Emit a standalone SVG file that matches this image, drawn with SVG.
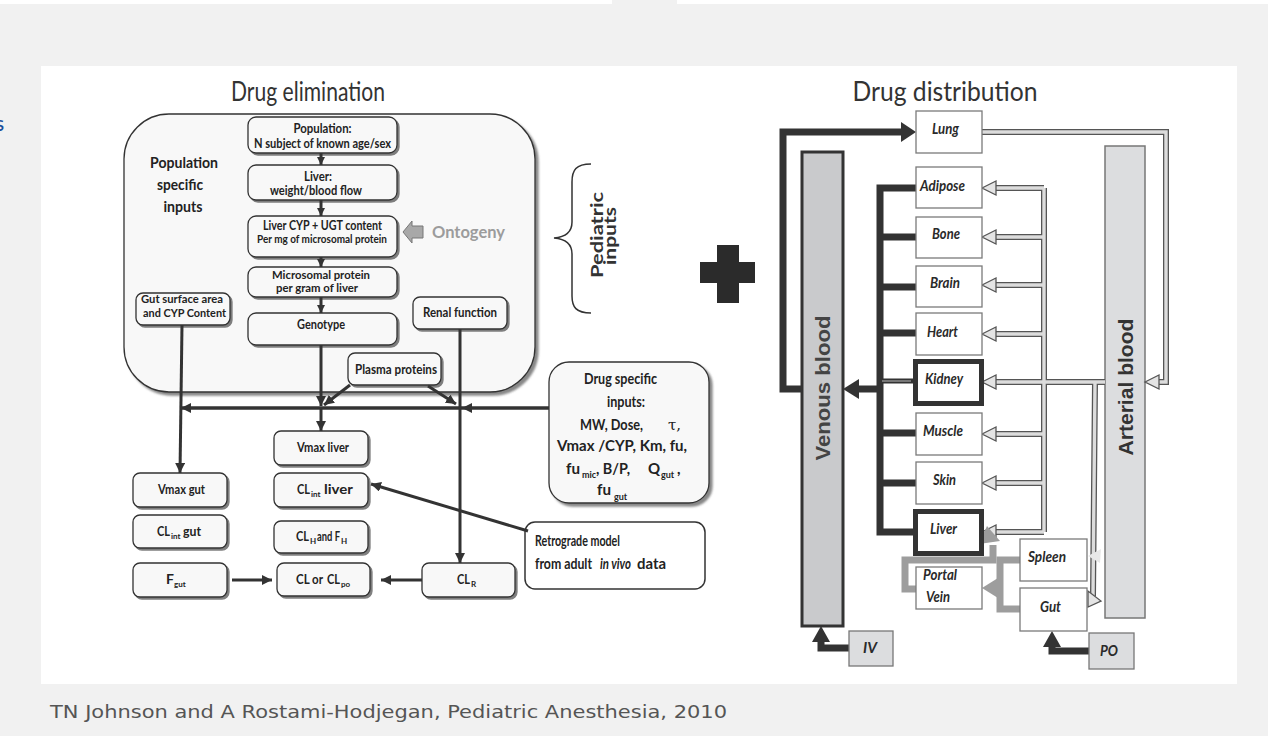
<svg xmlns="http://www.w3.org/2000/svg" width="1268" height="736" viewBox="0 0 1268 736">
<defs>
<style>
.bx{fill:#f8f8f8;stroke:#333;stroke-width:1.3;filter:url(#sh)}
.t{font-family:Lato,"Liberation Sans",sans-serif;font-weight:bold;font-size:14px;fill:#222;text-anchor:middle}
.t2{font-size:12.5px}
.s{text-anchor:start}
.sb{font-family:Lato,"Liberation Sans",sans-serif;font-weight:bold;font-size:8px;fill:#222}
.ln{stroke:#333;stroke-width:3;fill:none}
.org{fill:#fff;stroke:#7a7a7a;stroke-width:1.3}
.orgk{fill:#fff;stroke:#333;stroke-width:5}
.ot{font-family:Lato,"Liberation Sans",sans-serif;font-weight:bold;font-style:italic;font-size:15px;fill:#2a2a2a;text-anchor:middle}
.ho{stroke:#555;stroke-width:6;fill:none}
.hi{stroke:#dcdcdc;stroke-width:3.4;fill:none}
.ha{fill:#e4e4e4;stroke:#555;stroke-width:1.3}
.bk{stroke:#333;stroke-width:7;fill:none}
.gr{stroke:#9d9d9d;stroke-width:7;fill:none}
</style>
<filter id="sh" x="-10%" y="-10%" width="130%" height="140%"><feDropShadow dx="2" dy="2" stdDeviation="0.7" flood-color="#555" flood-opacity="0.75"/></filter>
<filter id="sh3" x="-5%" y="-5%" width="115%" height="115%"><feDropShadow dx="3" dy="3" stdDeviation="0.8" flood-color="#555" flood-opacity="0.7"/></filter>
<marker id="ah" viewBox="0 0 10 10" refX="10" refY="5" markerWidth="10" markerHeight="10" markerUnits="userSpaceOnUse" orient="auto"><path d="M0,0 L10,5 L0,10 z" fill="#333"/></marker>
<marker id="as" viewBox="0 0 10 10" refX="10" refY="5" markerWidth="8" markerHeight="9" markerUnits="userSpaceOnUse" orient="auto"><path d="M0,0 L10,5 L0,10 z" fill="#333"/></marker>
</defs>

<!-- page -->
<rect x="0" y="0" width="1268" height="736" fill="#f1f1f1"/>
<rect x="0" y="0" width="612" height="4" fill="#fff"/>
<rect x="677" y="0" width="591" height="4" fill="#fff"/>
<rect x="41" y="66" width="1196" height="618" fill="#fff"/>
<text x="-6" y="131" font-family="DejaVu Sans,sans-serif" font-size="20" fill="#1a4f9c">s</text>
<text x="50" y="718" font-family="DejaVu Sans,sans-serif" font-size="17" fill="#555" textLength="677" lengthAdjust="spacingAndGlyphs">TN Johnson and A Rostami-Hodjegan, Pediatric Anesthesia, 2010</text>

<!-- titles -->
<text x="308" y="101" font-family="Lato,sans-serif" font-size="26" fill="#333" text-anchor="middle" textLength="154" lengthAdjust="spacingAndGlyphs">Drug elimination</text>
<text x="945" y="101" font-family="Lato,sans-serif" font-size="26" fill="#333" text-anchor="middle" textLength="185" lengthAdjust="spacingAndGlyphs">Drug distribution</text>

<!-- ===== Drug elimination ===== -->
<g id="population-region">
<rect x="124" y="114" width="411" height="278" rx="45" fill="#f8f8f8" stroke="#333" stroke-width="1.3" filter="url(#sh3)"/>
<text class="t" x="184" y="168" textLength="68" lengthAdjust="spacingAndGlyphs" style="font-size:16px">Population</text>
<text class="t" x="180" y="190" textLength="46" lengthAdjust="spacingAndGlyphs" style="font-size:16px">specific</text>
<text class="t" x="183" y="212" textLength="39" lengthAdjust="spacingAndGlyphs" style="font-size:16px">inputs</text>
</g>

<g id="n-population">
<rect class="bx" x="248" y="117" width="149" height="36" rx="8"/>
<text class="t t2" x="322.5" y="132.5" textLength="58" lengthAdjust="spacingAndGlyphs">Population:</text>
<text class="t t2" x="322.5" y="147.5" textLength="137" lengthAdjust="spacingAndGlyphs">N subject of known age/sex</text>
</g>
<g id="n-liver">
<rect class="bx" x="248" y="165" width="149" height="35" rx="8"/>
<text class="t t2" x="318" y="180.5" textLength="28" lengthAdjust="spacingAndGlyphs">Liver:</text>
<text class="t t2" x="316" y="194.5" textLength="92" lengthAdjust="spacingAndGlyphs">weight/blood flow</text>
</g>
<g id="n-cyp">
<rect class="bx" x="248" y="216" width="149" height="41" rx="8"/>
<text class="t t2" x="322.5" y="230" textLength="119" lengthAdjust="spacingAndGlyphs">Liver CYP + UGT content</text>
<text class="t" x="322" y="243" textLength="130" lengthAdjust="spacingAndGlyphs" style="font-size:11.5px">Per mg of microsomal protein</text>
</g>
<g id="n-microsomal">
<rect class="bx" x="248" y="267" width="149" height="30" rx="8"/>
<text class="t" x="321" y="279" textLength="98" lengthAdjust="spacingAndGlyphs" style="font-size:12px">Microsomal protein</text>
<text class="t" x="317" y="292" textLength="82" lengthAdjust="spacingAndGlyphs" style="font-size:12px">per gram of liver</text>
</g>
<g id="n-genotype">
<rect class="bx" x="248" y="313" width="149" height="32" rx="8"/>
<text class="t" x="321" y="329" textLength="48" lengthAdjust="spacingAndGlyphs">Genotype</text>
</g>
<g id="n-gut-surface">
<rect class="bx" x="136" y="293" width="94" height="32" rx="7"/>
<text class="t" x="182" y="303" textLength="82" lengthAdjust="spacingAndGlyphs" style="font-size:12px">Gut surface area</text>
<text class="t" x="184.5" y="317" textLength="83" lengthAdjust="spacingAndGlyphs" style="font-size:12px">and CYP Content</text>
</g>
<g id="n-renal">
<rect class="bx" x="413" y="297" width="94" height="32" rx="7"/>
<text class="t" x="460" y="317" textLength="74" lengthAdjust="spacingAndGlyphs" style="font-size:13px">Renal function</text>
</g>
<g id="n-ontogeny">
<polygon points="403,232 412,221 412,226 423,226 423,238 412,238 412,243" fill="#a8a8a8" stroke="#777" stroke-width="1"/>
<text x="432" y="238" font-family="Lato,sans-serif" font-weight="bold" font-size="17" fill="#9c9c9c" textLength="73" lengthAdjust="spacingAndGlyphs">Ontogeny</text>
</g>
<g id="n-pediatric">
<path d="M591,164 C576,164 572,170 572,182 L572,222 C572,232 566,237 554,238 C566,239 572,244 572,254 L572,296 C572,307 576,313 591,313" fill="none" stroke="#333" stroke-width="1.5"/>
<text transform="translate(603,235) rotate(-90)" x="0" y="0" font-family="Lato,sans-serif" font-weight="bold" font-size="17" fill="#333" text-anchor="middle" textLength="86" lengthAdjust="spacingAndGlyphs">Pediatric</text>
<text transform="translate(616,236) rotate(-90)" x="0" y="0" font-family="Lato,sans-serif" font-weight="bold" font-size="17" fill="#333" text-anchor="middle" textLength="58" lengthAdjust="spacingAndGlyphs">inputs</text>
</g>
<g id="plus">
<rect x="717" y="245" width="22" height="58" fill="#2b2b2b"/>
<rect x="700" y="262" width="55" height="21" fill="#2b2b2b"/>
</g>
<g id="n-plasma">
<rect class="bx" x="348" y="353" width="93" height="32" rx="7"/>
<text class="t" x="396" y="374" textLength="82" lengthAdjust="spacingAndGlyphs" style="font-size:13px">Plasma proteins</text>
</g>
<g id="n-drug-specific">
<rect x="549" y="362" width="160" height="141" rx="20" fill="#f8f8f8" stroke="#333" stroke-width="1.3" filter="url(#sh3)"/>
<text class="t" x="620.5" y="384" textLength="73" lengthAdjust="spacingAndGlyphs" style="font-size:15px">Drug specific</text>
<text class="t" x="626" y="407" textLength="38" lengthAdjust="spacingAndGlyphs" style="font-size:15px">inputs:</text>
<text class="t s" x="580" y="430" textLength="63" lengthAdjust="spacingAndGlyphs" style="font-size:15px">MW, Dose,</text>
<text class="t s" x="668" y="430" style="font-size:15px;font-family:'DejaVu Serif',serif;font-weight:normal">τ,</text>
<text class="t s" x="557" y="451" textLength="130" lengthAdjust="spacingAndGlyphs" style="font-size:15px">Vmax  /CYP, Km, fu,</text>
<text class="t s" x="566" y="474" textLength="14" lengthAdjust="spacingAndGlyphs" style="font-size:15px">fu</text>
<text class="sb" x="582" y="478" style="font-size:9px">mic</text>
<text class="t s" x="596" y="474" textLength="34" lengthAdjust="spacingAndGlyphs" style="font-size:15px">, B/P,</text>
<text class="t s" x="648" y="474" style="font-size:15px">Q</text>
<text class="sb" x="661" y="478" style="font-size:9px">gut</text>
<text class="t s" x="677" y="474" style="font-size:15px">,</text>
<text class="t s" x="597" y="495" textLength="14" lengthAdjust="spacingAndGlyphs" style="font-size:15px">fu</text>
<text class="sb" x="614" y="500" style="font-size:9px">gut</text>
</g>
<g id="n-retrograde">
<rect x="525" y="522" width="180" height="67" rx="10" fill="#fff" stroke="#333" stroke-width="1.5"/>
<text class="t s" x="535" y="546" textLength="85" lengthAdjust="spacingAndGlyphs" style="font-size:15px">Retrograde model</text>
<text class="t s" x="535" y="569" textLength="57" lengthAdjust="spacingAndGlyphs" style="font-size:15px">from adult</text>
<text class="t s" x="600" y="569" textLength="31" lengthAdjust="spacingAndGlyphs" style="font-size:15px;font-style:italic">in vivo</text>
<text class="t s" x="637" y="569" textLength="29" lengthAdjust="spacingAndGlyphs" style="font-size:15px">data</text>
</g>
<g id="n-vmax-gut">
<rect class="bx" x="133" y="473" width="94" height="34" rx="7"/>
<text class="t" x="181.5" y="494" textLength="47" lengthAdjust="spacingAndGlyphs">Vmax gut</text>
</g>
<g id="n-clint-gut">
<rect class="bx" x="133" y="515" width="94" height="33" rx="7"/>
<text class="t s" x="157" y="536" textLength="13" lengthAdjust="spacingAndGlyphs">CL</text>
<text class="sb" x="171" y="539">int</text>
<text class="t s" x="183" y="536" textLength="18" lengthAdjust="spacingAndGlyphs">gut</text>
</g>
<g id="n-fgut">
<rect class="bx" x="133" y="563" width="94" height="34" rx="7"/>
<text class="t s" x="166" y="584">F</text>
<text class="sb" x="174" y="587">gut</text>
</g>
<g id="n-vmax-liver">
<rect class="bx" x="274" y="431" width="94" height="34" rx="7"/>
<text class="t" x="323" y="452" textLength="52" lengthAdjust="spacingAndGlyphs">Vmax liver</text>
</g>
<g id="n-clint-liver">
<rect class="bx" x="274" y="473" width="94" height="34" rx="7"/>
<text class="t s" x="297" y="494" textLength="13" lengthAdjust="spacingAndGlyphs">CL</text>
<text class="sb" x="311" y="497">int</text>
<text class="t s" x="324" y="494" textLength="29" lengthAdjust="spacingAndGlyphs">liver</text>
</g>
<g id="n-clh">
<rect class="bx" x="274" y="521" width="94" height="32" rx="7"/>
<text class="t s" x="296" y="541" textLength="13" lengthAdjust="spacingAndGlyphs">CL</text>
<text class="sb" x="310" y="544">H</text>
<text class="t s" x="317" y="541" textLength="23" lengthAdjust="spacingAndGlyphs">and F</text>
<text class="sb" x="341" y="544">H</text>
</g>
<g id="n-cl">
<rect class="bx" x="277" y="563" width="93" height="33" rx="7"/>
<text class="t s" x="296" y="583.5" textLength="27" lengthAdjust="spacingAndGlyphs">CL or</text>
<text class="t s" x="327" y="583.5" textLength="13" lengthAdjust="spacingAndGlyphs">CL</text>
<text class="sb" x="341" y="586.5">po</text>
</g>
<g id="n-clr">
<rect class="bx" x="422" y="563" width="93" height="34" rx="7"/>
<text class="t s" x="457" y="583.5" textLength="13" lengthAdjust="spacingAndGlyphs">CL</text>
<text class="sb" x="471" y="586.5">R</text>
</g>

<!-- ===== Drug distribution ===== -->
<g id="n-venous">
<rect x="802" y="152" width="41" height="474" fill="#c9cacc" stroke="#333" stroke-width="3"/>
<text transform="translate(830,388) rotate(-90)" x="0" y="0" font-family="Liberation Sans,Arial,sans-serif" font-weight="bold" font-size="20" fill="#444" text-anchor="middle" textLength="145" lengthAdjust="spacingAndGlyphs">Venous  blood</text>
</g>
<g id="n-arterial">
<rect x="1105" y="146" width="40" height="472" fill="#dcdddf" stroke="#777" stroke-width="1.5"/>
<text transform="translate(1133,387) rotate(-90)" x="0" y="0" font-family="Liberation Sans,Arial,sans-serif" font-weight="bold" font-size="20" fill="#333" text-anchor="middle" textLength="137" lengthAdjust="spacingAndGlyphs">Arterial blood</text>
</g>

<g id="connectors">
<!-- elimination connectors -->
<line class="ln" x1="321" y1="153" x2="321" y2="165" marker-end="url(#as)"/>
<line class="ln" x1="321" y1="200" x2="321" y2="216" marker-end="url(#as)"/>
<line class="ln" x1="321" y1="257" x2="321" y2="267" marker-end="url(#as)"/>
<line class="ln" x1="321" y1="297" x2="321" y2="313" marker-end="url(#as)"/>
<line class="ln" x1="321" y1="345" x2="321" y2="406" marker-end="url(#ah)"/>
<line class="ln" x1="321" y1="408" x2="321" y2="431" marker-end="url(#ah)"/>
<line class="ln" x1="182" y1="325" x2="180" y2="473" marker-end="url(#ah)"/>
<line class="ln" x1="549" y1="408" x2="181" y2="408" marker-end="url(#ah)" style="stroke-width:3.5"/>
<polygon points="462,408 472,403 472,413" fill="#333"/>
<line class="ln" x1="350" y1="385" x2="324" y2="405" marker-end="url(#ah)"/>
<line class="ln" x1="428" y1="386" x2="456" y2="404" marker-end="url(#ah)"/>
<line class="ln" x1="460" y1="329" x2="460" y2="563" marker-end="url(#ah)"/>
<line class="ln" x1="528" y1="531" x2="371" y2="484" marker-end="url(#ah)"/>
<line class="ln" x1="232" y1="580" x2="272" y2="580" marker-end="url(#ah)"/>
<line class="ln" x1="422" y1="580" x2="381" y2="580" marker-end="url(#ah)"/>

<!-- distribution: black venous connectors -->
<path class="bk" d="M802,389 H783 V132 H903"/>
<polygon points="916,132 901,122 901,142" fill="#333"/>
<path class="bk" d="M916,188 H880 V532 H913"/>
<path class="bk" d="M880,237 H916 M880,287 H916 M880,333 H916 M880,433 H916 M880,483 H916"/>
<path d="M880,381 H913" stroke="#333" stroke-width="5" fill="none"/>
<path d="M882,381 H911" stroke="#777" stroke-width="2" fill="none"/>
<path class="bk" d="M880,389 H856"/>
<polygon points="843,389 859,379 859,399" fill="#333"/>
<path class="bk" d="M849,648 H821 V641"/>
<polygon points="821,626 812,642 830,642" fill="#333"/>
<path class="bk" d="M1089,651 H1052 V646"/>
<polygon points="1052,631 1043,647 1061,647" fill="#333"/>

<!-- hollow arterial connectors -->
<path class="ho" d="M982,132 H1166 V382 H1158"/>
<path class="ho" d="M1105,382 H1044 M1044,188 V532 M1095,382 L1093,596"/>
<path class="ho" d="M1044,188 H995 M1044,237 H995 M1044,285 H995 M1044,334 H995 M1044,382 H995 M1044,434 H995 M1044,483 H995 M1044,532 H995"/>
<path class="hi" d="M982,132 H1166 V382 H1158"/>
<path class="hi" d="M1105,382 H1044 M1044,188 V532 M1095,382 L1093,596"/>
<path class="hi" d="M1044,188 H995 M1044,237 H995 M1044,285 H995 M1044,334 H995 M1044,382 H995 M1044,434 H995 M1044,483 H995 M1044,532 H995"/>
<polygon class="ha" points="1145,382 1159,375 1159,389"/>
<polygon class="ha" points="982,188 996,181 996,195"/>
<polygon class="ha" points="982,237 996,230 996,244"/>
<polygon class="ha" points="982,285 996,278 996,292"/>
<polygon class="ha" points="982,334 996,327 996,341"/>
<polygon class="ha" points="982,382 996,375 996,389"/>
<polygon class="ha" points="982,434 996,427 996,441"/>
<polygon class="ha" points="982,483 996,476 996,490"/>
<polygon class="ha" points="982,532 996,525 996,539"/>
<polygon class="ha" points="1088,607 1088,591 1101,601"/>
<polygon points="1088,556 1101,549 1100,563" fill="#e8e8e8"/>

<!-- gray portal connectors -->
<path class="gr" d="M1020,560 H1000 V609 H1020"/>
<path class="gr" d="M1000,588 H996"/>
<polygon points="982,588 998,578 998,598" fill="#9d9d9d"/>
<path class="gr" d="M916,589 H905 V560 H993 V545"/>
<polygon points="987,526 979,544 1000,541" fill="#9d9d9d"/>
</g>

<g id="n-lung"><rect class="org" x="916" y="111" width="66" height="42"/><text class="ot" x="945.5" y="134" textLength="27" lengthAdjust="spacingAndGlyphs">Lung</text></g>
<g id="n-adipose"><rect class="org" x="916" y="167" width="66" height="41"/><text class="ot" x="942.5" y="191" textLength="45" lengthAdjust="spacingAndGlyphs">Adipose</text></g>
<g id="n-bone"><rect class="org" x="916" y="217" width="66" height="41"/><text class="ot" x="946" y="239" textLength="28" lengthAdjust="spacingAndGlyphs">Bone</text></g>
<g id="n-brain"><rect class="org" x="916" y="266" width="66" height="41"/><text class="ot" x="945" y="288" textLength="30" lengthAdjust="spacingAndGlyphs">Brain</text></g>
<g id="n-heart"><rect class="org" x="916" y="313" width="66" height="42"/><text class="ot" x="942.5" y="337" textLength="31" lengthAdjust="spacingAndGlyphs">Heart</text></g>
<g id="n-kidney"><rect class="orgk" x="915.5" y="361.5" width="66" height="42"/><text class="ot" x="944" y="384" textLength="38" lengthAdjust="spacingAndGlyphs">Kidney</text></g>
<g id="n-muscle"><rect class="org" x="916" y="413" width="66" height="42"/><text class="ot" x="943" y="436" textLength="40" lengthAdjust="spacingAndGlyphs">Muscle</text></g>
<g id="n-skin"><rect class="org" x="916" y="462" width="66" height="42"/><text class="ot" x="944.5" y="485" textLength="23" lengthAdjust="spacingAndGlyphs">Skin</text></g>
<g id="n-liver-d"><rect class="orgk" x="915.5" y="511.5" width="66" height="42"/><text class="ot" x="943.5" y="534" textLength="27" lengthAdjust="spacingAndGlyphs">Liver</text></g>
<g id="n-portal"><rect class="org" x="916" y="567" width="66" height="42"/><text class="ot" x="940" y="580" textLength="34" lengthAdjust="spacingAndGlyphs">Portal</text><text class="ot" x="938" y="602" textLength="24" lengthAdjust="spacingAndGlyphs">Vein</text></g>
<g id="n-spleen"><rect class="org" x="1020" y="539" width="67" height="42"/><text class="ot" x="1047" y="562" textLength="38" lengthAdjust="spacingAndGlyphs">Spleen</text></g>
<g id="n-gut"><rect class="org" x="1020" y="588" width="67" height="43"/><text class="ot" x="1050.5" y="612" textLength="21" lengthAdjust="spacingAndGlyphs">Gut</text></g>
<g id="n-iv"><rect x="849" y="631" width="44" height="35" fill="#dcdddf" stroke="#777" stroke-width="1.3"/><text class="ot" x="870" y="653" style="font-size:16px" textLength="14" lengthAdjust="spacingAndGlyphs">IV</text></g>
<g id="n-po"><rect x="1089" y="633" width="45" height="36" fill="#dcdddf" stroke="#777" stroke-width="1.3"/><text class="ot" x="1109" y="656" style="font-size:16px" textLength="18" lengthAdjust="spacingAndGlyphs">PO</text></g>
</svg>
